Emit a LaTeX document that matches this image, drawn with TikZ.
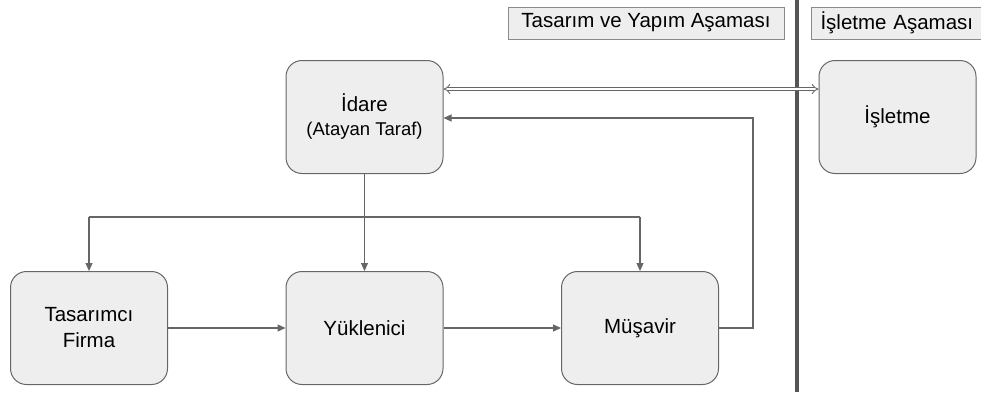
\documentclass[tikz,border=0pt]{standalone}
\usepackage{fontspec}
\setmainfont{Liberation Sans}
\usetikzlibrary{arrows.meta}
\definecolor{boxfill}{HTML}{EEEEEE}
\definecolor{boxline}{HTML}{666666}
\definecolor{connc}{HTML}{666666}
\definecolor{phaseline}{HTML}{8A8A8A}
\definecolor{divider}{HTML}{555555}
\begin{document}
\begin{tikzpicture}[x=1pt,y=1pt,
  entity/.style={draw=boxline, fill=boxfill, rounded corners=16pt, minimum width=157pt, minimum height=113pt, line width=1pt, align=center, font=\fontsize{20.5}{26}\selectfont, inner sep=0pt},
  phase/.style={draw=phaseline, fill=boxfill, line width=1pt, minimum height=32pt, font=\fontsize{20.5}{24}\selectfont, inner sep=0pt},
  conn/.style={draw=connc, line width=1.2pt, -{Triangle[length=8pt,width=7pt]}},
  plain/.style={draw=connc, line width=1.2pt}
]
\useasboundingbox (0,0) rectangle (981,-392);

% phase labels
\node[phase, minimum width=276pt] (p1) at (646,-23) {Tasarım ve Yapım Aşaması};
\node[phase, anchor=west, text width=170pt, inner xsep=9pt, align=left] (p2) at (811,-23) {İşletme Aşaması};

% divider
\coordinate (vtop) at (797,0);
\coordinate (vbot) at (797,-392);
\draw[divider, line width=4pt] (vtop) -- (vbot);

% nodes
\node[entity] (idare) at (364.5,-117) {İdare\\[-2pt]{\fontsize{18.5}{22}\selectfont (Atayan Taraf)}};
\node[entity] (isletme) at (897.5,-117) {İşletme};
\node[entity] (tasarimci) at (89,-328) {Tasarımcı\\Firma};
\node[entity] (yuklenici) at (364.5,-328) {Yüklenici};
\node[entity] (musavir) at (640,-328) {Müşavir};

% double arrow
\coordinate (dy) at (0,-89);
\draw[draw=connc, line width=0.9pt, double=white, double distance=2.6pt, {Implies}-{Implies}] (idare.east |- dy) -- (isletme.west |- dy);

% return arrow
\coordinate (rx) at (753,-118);
\draw[conn] (musavir.east) -| (rx) -- (idare.east |- rx);

% branching
\coordinate (br) at (0,-217);
\draw[conn] (idare.south) -- (yuklenici.north);
\draw[plain] (tasarimci.north |- br) -- (musavir.north |- br);
\draw[conn] (tasarimci.north |- br) -- (tasarimci.north);
\draw[conn] (musavir.north |- br) -- (musavir.north);

% horizontal flow
\draw[conn] (tasarimci.east) -- (yuklenici.west);
\draw[conn] (yuklenici.east) -- (musavir.west);
\end{tikzpicture}
\end{document}
